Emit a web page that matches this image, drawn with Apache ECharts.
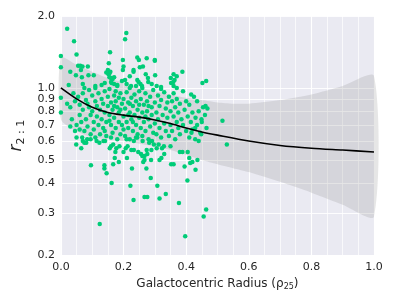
<!DOCTYPE html>
<html><head><meta charset="utf-8">
<script src="https://cdn.jsdelivr.net/npm/echarts@6/dist/echarts.min.js"></script>
<style>html,body{margin:0;padding:0;background:#fff}#c{width:395px;height:296px}</style>
</head><body><div id="c"></div>
<script>
// x: galactocentric radius (rho25), y: r_{2:1}
const pointsX = [
0.02,0.042,0.209,0.205,0.05,0.157,0.0,0.198,0.055,0.062,0.069,0.086,0.153,0.03,0.064,0.048,0.15,0.158,0.155,0.145,0.17,0.155,0.16,0.165,0.152,0.2,0.198,0.105,0.088,0.067,0.195,0.205,0.21,0.16,0.162,0.14,0.17,0.18,0.11,0.07,0.025,0.0,
0.244,0.249,0.274,0.30,0.30,0.262,0.252,0.232,0.232,0.388,0.271,0.278,0.279,0.301,0.22,0.244,0.248,0.254,0.259,0.24,0.351,0.359,0.352,0.363,0.29,0.306,0.32,0.36,0.224,0.452,0.464,0.36,0.37,
0.00,0.00,0.02,0.03,0.035,0.04,0.045,0.045,0.05,0.05,0.03,
0.055,0.06,0.06,0.065,0.07,0.07,0.075,0.08,0.08,0.085,0.09,0.09,0.095,0.095,0.06,0.075,0.085,
0.10,0.10,0.105,0.105,0.11,0.11,0.115,0.115,0.12,0.12,0.125,0.125,0.13,0.13,0.135,0.135,0.14,0.14,0.145,0.145,0.15,0.15,0.11,0.13,0.14,
0.155,0.155,0.16,0.16,0.165,0.165,0.17,0.17,0.175,0.175,0.18,0.18,0.185,0.185,0.19,0.19,0.195,0.195,0.2,0.2,0.16,0.17,0.18,0.19,0.155,0.2,0.175,0.185,
0.205,0.205,0.21,0.21,0.215,0.215,0.22,0.22,0.225,0.225,0.23,0.23,0.235,0.235,0.24,0.24,0.245,0.245,0.25,0.25,0.21,0.22,0.23,0.24,0.25,0.215,
0.255,0.255,0.26,0.26,0.265,0.265,0.27,0.27,0.275,0.275,0.28,0.28,0.285,0.285,0.29,0.29,0.295,0.295,0.30,0.30,0.26,0.28,0.27,
0.305,0.305,0.31,0.31,0.315,0.315,0.32,0.32,0.325,0.33,0.33,0.335,0.335,0.34,0.34,0.345,0.345,0.35,0.35,0.32,
0.355,0.355,0.36,0.36,0.365,0.365,0.37,0.37,0.375,0.375,0.38,0.38,0.385,0.39,0.39,0.395,0.4,0.4,0.37,
0.405,0.41,0.41,0.415,0.42,0.42,0.43,0.435,0.44,0.445,0.45,0.46,0.465,
0.425,0.435,0.416,0.462,0.454,0.468,0.449,0.516,0.429,0.417,0.448,0.429,0.53,
0.049,0.065,0.075,0.081,0.095,0.084,0.068,0.07,0.114,0.123,0.136,0.141,0.156,0.16,0.167,0.174,0.177,0.187,0.2,0.207,0.213,0.172,0.185,0.211,0.096,0.139,0.139,0.146,0.167,
0.22,0.233,0.244,0.261,0.282,0.291,0.297,0.312,0.323,0.329,0.306,0.289,0.276,0.267,0.26,0.256,0.247,0.233,0.225,0.274,0.267,0.263,0.288,0.315,0.321,0.35,0.33,0.227,0.273,0.36,0.352,0.41,0.436,0.44,0.388,0.405,0.395,0.413,0.287,0.404,
0.162,0.222,0.308,0.267,0.276,0.232,0.315,0.335,0.377,0.464,0.456,0.124,0.397,0.38,0.42,0.43
];
const pointsY = [
1.77,1.57,1.70,1.60,1.38,1.41,1.36,1.31,1.24,1.24,1.23,1.23,1.27,1.17,1.19,1.13,1.19,1.17,1.15,1.16,1.11,1.11,1.10,1.09,1.14,1.23,1.19,1.13,1.13,1.11,1.07,1.08,1.04,1.06,1.05,1.05,1.04,1.03,1.02,1.04,1.03,1.22,
1.34,1.31,1.33,1.31,1.30,1.23,1.22,1.19,1.17,1.17,1.14,1.10,1.06,1.13,1.12,1.08,1.06,1.04,1.02,1.02,1.10,1.06,1.05,1.08,1.04,1.02,1.01,1.02,1.02,1.05,1.07,1.14,1.12,
0.91,0.79,0.86,0.83,0.74,0.95,0.66,0.88,0.70,0.62,0.69,
0.92,0.85,0.77,0.72,0.95,0.81,0.66,0.89,0.74,0.69,0.83,0.98,0.77,0.64,0.67,1.0,0.86,
0.93,0.80,0.72,0.67,0.88,1.0,0.76,0.84,0.70,0.95,0.64,0.81,0.90,0.74,0.68,0.86,0.79,0.97,0.72,0.63,0.84,0.92,0.62,1.03,0.66,
0.77,0.99,0.87,0.70,0.81,0.65,0.93,0.75,0.88,0.68,0.83,1.02,0.72,0.79,0.95,0.64,0.86,0.70,0.90,0.76,0.62,0.84,0.61,0.81,0.73,0.67,0.97,0.91,
0.82,0.63,0.96,0.72,0.87,0.68,0.79,1.0,0.74,0.91,0.66,0.84,0.77,0.94,0.70,0.88,0.81,0.64,0.97,0.75,0.61,0.86,0.72,0.62,0.85,0.77,
0.68,0.90,0.79,0.63,0.85,0.72,0.95,0.66,0.80,0.88,0.74,0.61,0.92,0.69,0.83,0.77,0.65,0.98,0.87,0.71,1.0,0.84,0.76,
0.79,0.64,0.93,0.74,0.84,0.68,0.89,0.62,0.77,0.96,0.71,0.82,0.66,0.87,0.75,0.92,0.63,0.80,0.70,0.99,
0.88,0.66,0.76,0.95,0.83,0.61,0.72,0.90,0.68,0.79,0.86,0.64,0.74,0.97,0.70,0.81,0.66,0.88,1.0,
0.76,0.62,0.85,0.72,0.79,0.67,0.75,0.70,0.80,0.65,0.72,0.77,0.68,
0.92,0.88,0.94,0.84,0.83,0.82,0.74,0.73,0.68,0.65,0.64,0.61,0.58,
0.58,0.56,0.59,0.59,0.61,0.61,0.62,0.60,0.60,0.59,0.60,0.60,0.56,0.57,0.58,0.54,0.56,0.57,0.54,0.56,0.57,0.51,0.49,0.51,0.475,0.475,0.46,0.44,0.48,
0.61,0.60,0.62,0.60,0.59,0.60,0.58,0.58,0.56,0.57,0.56,0.55,0.53,0.52,0.52,0.53,0.54,0.55,0.55,0.55,0.50,0.49,0.50,0.50,0.51,0.57,0.53,0.46,0.46,0.48,0.48,0.51,0.50,0.60,0.54,0.54,0.47,0.485,0.42,0.41,
0.40,0.39,0.39,0.35,0.35,0.34,0.345,0.36,0.33,0.31,0.29,0.27,0.24,0.54,0.49,0.455
];
const fitX =     [0, 0.05, 0.1, 0.15, 0.2, 0.25, 0.3, 0.35, 0.4, 0.45, 0.5, 0.6, 0.7, 0.8, 0.9, 1.0];
const fitY =     [1.0, 0.9, 0.83, 0.79, 0.77, 0.755, 0.735, 0.71, 0.68, 0.655, 0.635, 0.60, 0.575, 0.56, 0.55, 0.54];
const bandX =    [0, 0.05, 0.1, 0.15, 0.2, 0.25, 0.3, 0.35, 0.4, 0.45, 0.5, 0.55, 0.6, 0.7, 0.8, 0.9, 1.0];
const bandUpper =[1.34, 1.25, 1.17, 1.10, 1.05, 1.0, 0.97, 0.94, 0.91, 0.89, 0.87, 0.86, 0.86, 0.89, 0.94, 1.02, 1.12];
const bandLower =[0.74, 0.66, 0.62, 0.61, 0.60, 0.585, 0.57, 0.55, 0.525, 0.50, 0.48, 0.462, 0.445, 0.405, 0.365, 0.325, 0.29];
const yTickValues = [0.2, 0.3, 0.4, 0.5, 0.6, 0.7, 0.8, 0.9, 1.0, 2.0];
const yTickLabels = ['0.2','0.3','0.4','0.5','0.6','0.7','0.8','0.9','1.0','2.0'];
const xTickLabels = ['0.0','0.2','0.4','0.6','0.8','1.0'];

const L = Math.log10;
const yTickLog = yTickValues.map(L);
const textColor = '#262626';
const font = 'DejaVu Sans';

const chart = echarts.init(document.getElementById('c'), null, {renderer: 'canvas'});
const scatterData = pointsX.map((x, i) => [x, L(pointsY[i])]);
const lineData = fitX.map((x, i) => [x, L(fitY[i])]);

chart.setOption({
  animation: false,
  backgroundColor: '#ffffff',
  grid: {left: 60, right: 21, top: 16, bottom: 37, show: true, backgroundColor: '#EAEAF2', borderWidth: 0},
  xAxis: {
    type: 'value', min: 0, max: 1, interval: 0.2,
    axisLine: {show: false}, axisTick: {show: false},
    axisLabel: {color: textColor, fontFamily: font, fontSize: 11, margin: 7,
      formatter: v => xTickLabels[Math.round(v / 0.2)]},
    splitLine: {show: true, lineStyle: {color: '#ffffff', width: 1.1}},
    minorSplitLine: {show: true, lineStyle: {color: '#ffffff', width: 0.7}},
    minorTick: {show: false, splitNumber: 4},
    name: '{a|Galactocentric Radius (ρ}{s|25}{a|)}',
    nameLocation: 'middle', nameGap: 20,
    nameTextStyle: {rich: {
      a: {fontFamily: font, fontSize: 12, color: textColor},
      s: {fontFamily: font, fontSize: 8, color: textColor, padding: [6, 0, 0, 0]}
    }}
  },
  yAxis: {
    type: 'value', min: L(0.2), max: L(2.0),
    axisLine: {show: false},
    axisTick: {show: false, customValues: yTickLog},
    axisLabel: {color: textColor, fontFamily: font, fontSize: 11, margin: 6,
      customValues: yTickLog,
      formatter: v => {
        let best = 0, d = 1e9;
        yTickLog.forEach((t, i) => { const dd = Math.abs(t - v); if (dd < d) { d = dd; best = i; } });
        return yTickLabels[best];
      }},
    splitLine: {show: true, lineStyle: {color: '#ffffff', width: 0.9}},
    name: '{r|r}{s|2 : 1}',
    nameLocation: 'middle', nameGap: 28, nameRotate: 90,
    nameTextStyle: {rich: {
      r: {fontFamily: font, fontSize: 17, fontStyle: 'italic', color: textColor},
      s: {fontFamily: font, fontSize: 11, color: textColor, padding: [9, 0, 0, 0]}
    }}
  },
  series: [
    {
      type: 'custom', z: 1, silent: true,
      data: [0],
      renderItem: (params, api) => {
        const pts = [];
        bandX.forEach((x, i) => pts.push(api.coord([x, L(bandUpper[i])])));
        for (let i = bandX.length - 1; i >= 0; i--) pts.push(api.coord([bandX[i], L(bandLower[i])]));
        return {type: 'polygon', shape: {points: pts, smooth: 0.25}, style: {fill: 'rgba(128,128,128,0.2)'}};
      }
    },
    {
      type: 'scatter', z: 2, data: scatterData, symbolSize: 4.5,
      itemStyle: {color: '#00CC78', opacity: 1}
    },
    {
      type: 'line', z: 3, data: lineData, smooth: 0.3, symbol: 'none',
      lineStyle: {color: '#000000', width: 1.6}
    }
  ]
});
</script></body></html>
